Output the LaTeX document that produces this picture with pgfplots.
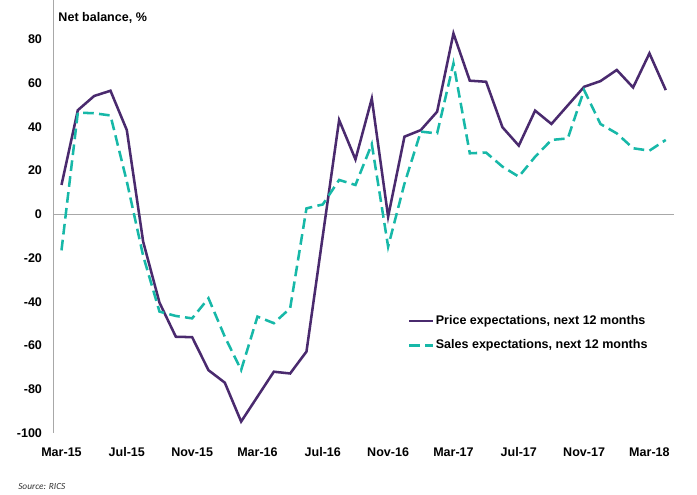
\documentclass[border=0pt]{standalone}
\usepackage{fontspec}
\setmainfont{Liberation Sans}
\newfontfamily\carlito{Carlito}
\usepackage{pgfplots}
\pgfplotsset{compat=1.18}
\definecolor{pricec}{HTML}{4A2A6E}
\definecolor{salesc}{HTML}{17B8A8}
\definecolor{axgray}{HTML}{A8A8A8}
\begin{document}
\begin{tikzpicture}
\useasboundingbox (-40pt,-46.5pt) rectangle (482.8pt,324.75pt);
\begin{axis}[
  at={(0pt,0pt)}, anchor=south west,
  scale only axis, width=465.5pt, height=324.75pt,
  xmin=-0.5, xmax=37.5, ymin=-100, ymax=98,
  axis x line*=bottom, axis y line*=left,
  x axis line style={draw=none},
  y axis line style={draw=axgray, line width=0.8pt, -},
  major tick length=0pt,
  xtick={0,4,...,36},
  xticklabels={Mar-15,Jul-15,Nov-15,Mar-16,Jul-16,Nov-16,Mar-17,Jul-17,Nov-17,Mar-18},
  ytick={-100,-80,...,80},
  /pgf/number format/assume math mode=true,
  tick label style={font=\fontsize{9.4}{11}\selectfont\bfseries},
  yticklabel style={xshift=-5pt},
  xticklabel style={yshift=-7pt, text height=7pt, text depth=1.5pt},
  legend style={draw=none, fill=none, at={(0.571,0.275)}, anchor=north west,
    font=\fontsize{9.4}{11}\selectfont\bfseries, row sep=8pt, inner sep=0pt,
    nodes={inner sep=1pt}},
  legend cell align=left,
  legend image code/.code={\draw[#1] (0pt,0pt) -- (18pt,0pt);},
  clip=false,
]
\draw[axgray, line width=1.1pt] (axis cs:-0.5,0) -- (axis cs:37.5,0);
\addplot[pricec, line width=1.9pt] coordinates {
(0,13.4) (1,47.6) (2,54.1) (3,56.5) (4,38.5) (5,-12.5) (6,-40.4) (7,-56) (8,-56.2)
(9,-71.3) (10,-77) (11,-94.8) (12,-83.4) (13,-72) (14,-72.8) (15,-62.8) (16,-9.8)
(17,43.1) (18,25.1) (19,52.9) (20,-1.1) (21,35.5) (22,38.5) (23,46.9) (24,82.7)
(25,61.1) (26,60.6) (27,39.8) (28,31.4) (29,47.4) (30,41.3) (31,49.8) (32,58.3)
(33,60.9) (34,66) (35,58) (36,73.6) (37,56.8)};
\addlegendentry{Price expectations, next 12 months}
\addplot[salesc, line width=1.9pt, dash pattern=on 8pt off 4pt] coordinates {
(0,-16.5) (1,46.5) (2,46.2) (3,45.2) (4,15) (5,-19) (6,-44.5) (7,-46.5) (8,-47.6)
(9,-38.4) (10,-56) (11,-71.2) (12,-46.8) (13,-49.8) (14,-43) (15,2.7) (16,4.5)
(17,15.7) (18,13.4) (19,32.1) (20,-14.8) (21,14) (22,37.8) (23,37) (24,69)
(25,27.9) (26,28.2) (27,21.8) (28,17.2) (29,26.3) (30,34) (31,34.7) (32,56.8)
(33,41.3) (34,37) (35,30.2) (36,29.1) (37,34)};
\addlegendentry{Sales expectations, next 12 months}
\node[anchor=west, font=\fontsize{9.4}{11}\selectfont\bfseries, inner sep=0pt]
  at (axis cs:-0.2,90) {Net balance, \%};
\end{axis}
\node[anchor=west, font=\carlito\itshape\fontsize{7}{8}\selectfont, text=black!80, inner sep=0pt]
  at (-26.5pt,-40pt) {Source: RICS};
\end{tikzpicture}
\end{document}
